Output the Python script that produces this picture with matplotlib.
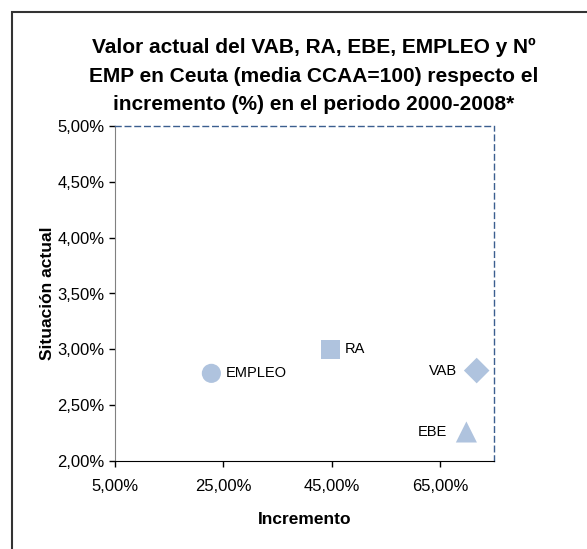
import matplotlib
matplotlib.use('Agg')
import matplotlib.pyplot as plt
from matplotlib.patches import Rectangle
from matplotlib.ticker import FuncFormatter

plt.rcParams['font.family'] = ['Liberation Sans', 'DejaVu Sans']

labels = ['EMPLEO', 'RA', 'VAB', 'EBE']
incremento = [22.8, 44.8, 71.8, 69.9]
situacion = [2.785, 3.00, 2.81, 2.26]
markers = ['o', 's', 'D', '^']
sizes = [190, 200, 170, 230]

fig = plt.figure(figsize=(5.87, 5.49), dpi=100)
fig.patches.append(Rectangle((12 / 587, -0.1), 1.2, 1.1 - 12 / 549,
                             transform=fig.transFigure, fill=False,
                             edgecolor='#333333', linewidth=1.5))
ax = fig.add_axes([115 / 587, 1 - 461 / 549, 379 / 587, 335 / 549])

col = '#AFC3DE'
for lab, x, y, m, s in zip(labels, incremento, situacion, markers, sizes):
    ax.scatter(x, y, marker=m, s=s, color=col, edgecolors='none', zorder=3)
    if lab in ('VAB', 'EBE'):
        ax.annotate(lab, (x, y), xytext=(-14, 0), textcoords='offset points',
                    ha='right', va='center', fontsize=10.5)
    else:
        ax.annotate(lab, (x, y), xytext=(10, 0), textcoords='offset points',
                    ha='left', va='center', fontsize=10.5)

ax.set_xlim(5, 75)
ax.set_ylim(2, 5)
ax.set_xticks([5, 25, 45, 65])
ax.set_yticks([2, 2.5, 3, 3.5, 4, 4.5, 5])
fmt = FuncFormatter(lambda v, p: ('%.2f%%' % v).replace('.', ','))
ax.xaxis.set_major_formatter(fmt)
ax.yaxis.set_major_formatter(fmt)
ax.tick_params(labelsize=12, direction='out', length=4, width=1)
ax.tick_params(axis='x', pad=9)

for side in ('top', 'right'):
    ax.spines[side].set_linestyle((0, (4, 3)))
    ax.spines[side].set_color('#3B5E8F')
    ax.spines[side].set_linewidth(1)
ax.spines['left'].set_color('#808080')
ax.spines['bottom'].set_color('#000000')

ax.set_xlabel('Incremento', fontsize=12.5, fontweight='bold', labelpad=13)
ax.set_ylabel('Situación actual', fontsize=12.5, fontweight='bold', labelpad=2)

fig.text(314 / 587, 1 - 76 / 549,
         'Valor actual del VAB, RA, EBE, EMPLEO y Nº\n'
         'EMP en Ceuta (media CCAA=100) respecto el\n'
         'incremento (%) en el periodo 2000-2008*',
         ha='center', va='center', fontsize=15, fontweight='bold',
         linespacing=1.65)

fig.savefig('out.png', dpi=100)
